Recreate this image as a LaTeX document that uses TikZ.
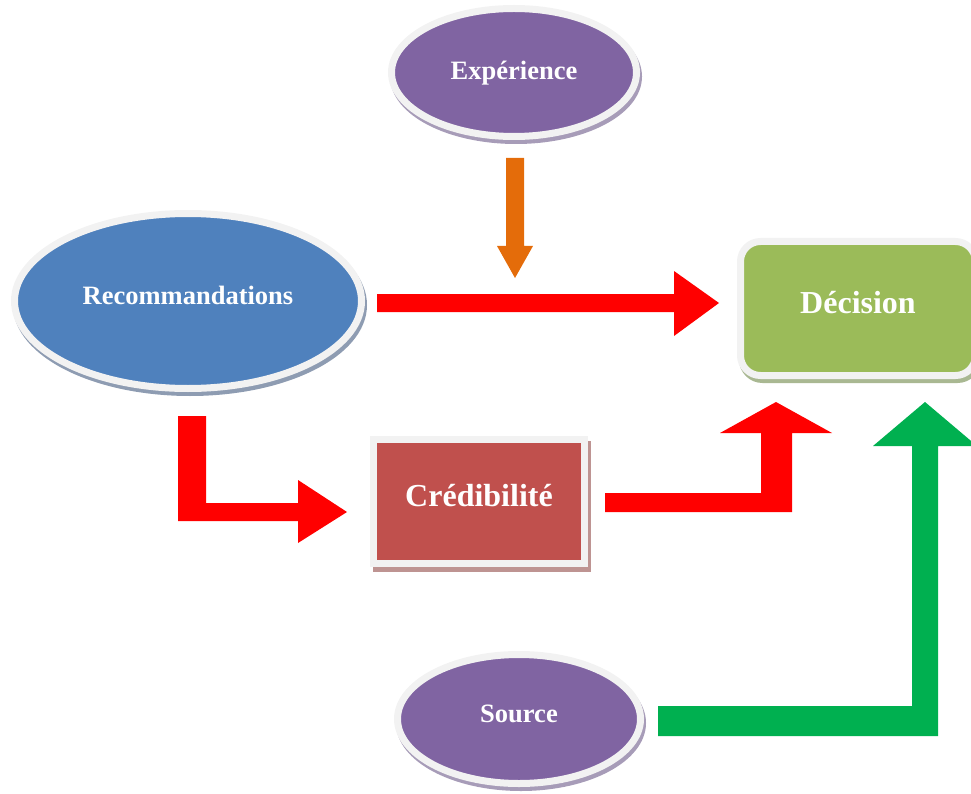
\documentclass[tikz,border=0pt]{standalone}
\usepackage{fontspec}
\setmainfont{Liberation Serif}
\usetikzlibrary{shapes.geometric}

\definecolor{ringgray}{HTML}{F2F2F2}
\definecolor{blueoval}{HTML}{4F81BD}
\definecolor{purpleoval}{HTML}{8064A2}
\definecolor{redbox}{HTML}{C0504D}
\definecolor{greenbox}{HTML}{9BBB59}
\definecolor{arroworange}{HTML}{E46C0A}
\definecolor{arrowred}{HTML}{FF0000}
\definecolor{arrowgreen}{HTML}{00B050}
\definecolor{shblue}{HTML}{8E9CB2}
\definecolor{shpurple}{HTML}{A79CB8}
\definecolor{shred}{HTML}{BE9492}
\definecolor{shgreen}{HTML}{A9B892}

\tikzset{
  shape base/.style={draw=ringgray, line width=7pt, inner sep=0pt,
    text=white, font=\bfseries, text depth=0pt},
  cast/.style={preaction={draw=#1, fill=#1, line width=7pt,
    transform canvas={shift={(2pt,-4pt)}}}},
  oval/.style={shape base, ellipse},
  smalltext/.style={font=\bfseries\fontsize{26.5}{30}\selectfont, text height=7.6pt},
  bigtext/.style={font=\bfseries\fontsize{32}{36}\selectfont, text height=9.2pt},
  blockarrow/.style={fill=#1, draw=none}
}

\begin{document}
\begin{tikzpicture}[x=1pt,y=-1pt]
\useasboundingbox (0,0) rectangle (971,794);
\clip (0,0) rectangle (971,794);

% concepts
\node[oval, cast=shpurple, fill=purpleoval, smalltext, text height=13.6pt,
      minimum width=245pt, minimum height=128pt] (exp) at (514,72.5) {Expérience};
\node[oval, cast=shblue, fill=blueoval, smalltext,
      minimum width=347pt, minimum height=175pt] (rec) at (188,301) {Recommandations};
\node[oval, cast=shpurple, fill=purpleoval, smalltext,
      minimum width=243pt, minimum height=129pt] (src) at (519,719) {Source};
\node[shape base, rectangle, preaction={fill=shred, draw=shred, line width=7pt,
      transform canvas={shift={(3pt,-5pt)}}}, fill=redbox, bigtext,
      minimum width=211pt, minimum height=124pt] (cred) at (479,501.5) {Crédibilité};
\node[shape base, rectangle, rounded corners=20pt, cast=shgreen, fill=greenbox, bigtext,
      minimum width=235pt, minimum height=134pt] (dec) at (858,308.5) {Décision};

% block arrows
\fill[blockarrow=arroworange] (506,158) -- (524,158) -- (524,246) -- (533,246)
  -- (515,278) -- (497,246) -- (506,246) -- cycle;
\fill[blockarrow=arrowred] (377,294) -- (674,294) -- (674,271) -- (719,303)
  -- (674,336) -- (674,312) -- (377,312) -- cycle;
\fill[blockarrow=arrowred] (178,416) -- (206,416) -- (206,503) -- (298,503)
  -- (298,480) -- (347,512) -- (298,543) -- (298,521) -- (178,521) -- cycle;
\fill[blockarrow=arrowred] (605,493) -- (761,493) -- (761,433) -- (720,433)
  -- (776,402) -- (832,433) -- (792,433) -- (792,512) -- (605,512) -- cycle;
\fill[blockarrow=arrowgreen] (658,706) -- (912,706) -- (912,446) -- (873,446)
  -- (925,402) -- (977,446) -- (938,446) -- (938,736) -- (658,736) -- cycle;
\end{tikzpicture}
\end{document}
